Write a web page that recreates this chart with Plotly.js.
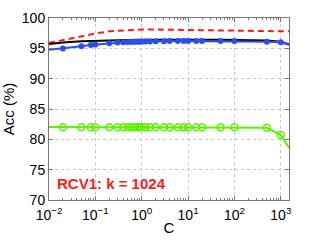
<!DOCTYPE html>
<html>
<head>
<meta charset="utf-8">
<script src="https://cdn.plot.ly/plotly-3.0.1.min.js"></script>
<style>html,body{margin:0;padding:0;background:#fff;}#chart{width:319px;height:240px;}</style>
</head>
<body>
<div id="chart"></div>
<script>
// C values (line runs from 0.01 to 1500; markers on the inner points)
var cValues = [0.01,0.02,0.05,0.08,0.1,0.2,0.3,0.4,0.5,0.6,0.7,0.8,0.9,1,1.2,1.5,2,3,4,6,8,10,15,20,50,100,500,1000,1500];
var blueAcc = [94.75,94.97,95.35,95.55,95.62,95.85,95.95,96.0,96.03,96.05,96.07,96.08,96.1,96.1,96.12,96.13,96.15,96.17,96.2,96.2,96.2,96.2,96.2,96.2,96.2,96.2,96.1,96.0,95.6];
var greenAcc = [82.05,82.0,82.0,82.0,82.0,82.0,82.0,82.0,82.0,82.0,82.0,82.0,82.0,82.0,82.0,82.0,82.0,82.0,82.0,82.0,82.0,82.0,82.0,82.0,82.0,82.0,81.9,80.7,78.6];

var cSmooth = [0.01,0.02,0.05,0.1,0.2,0.5,1,2,5,10,20,50,100,200,500,1000,1500];
var blackAcc = [95.7,95.95,96.15,96.25,96.32,96.38,96.4,96.42,96.42,96.42,96.4,96.4,96.38,96.35,96.3,96.1,95.65];
var redAcc = [95.9,96.4,97.0,97.45,97.8,98.0,98.1,98.1,98.1,98.05,98.0,97.95,97.9,97.85,97.8,97.8,97.8];

var xTickVals = [0.01,0.1,1,10,100,1000];
var yTickVals = [70,75,80,85,90,95,100];
var labelText = "RCV1: k = 1024";

var blue = '#2b4ef0', green = '#5ef000', red = '#ff1a1a';
var inner = function(a){ return a.slice(1, a.length-1); };

var traces = [
  {x: cSmooth, y: redAcc, mode:'lines', line:{color:red, width:2, dash:'6px,4px'}, hoverinfo:'skip'},
  {x: cSmooth, y: blackAcc, mode:'lines', line:{color:'#000', width:2}, hoverinfo:'skip'},
  {x: cValues, y: blueAcc, mode:'lines', line:{color:blue, width:2}, hoverinfo:'skip'},
  {x: inner(cValues), y: inner(blueAcc), mode:'markers', marker:{color:blue, size:6, symbol:'circle'}, hoverinfo:'skip'},
  {x: cValues, y: greenAcc, mode:'lines', line:{color:green, width:2}, hoverinfo:'skip'},
  {x: inner(cValues), y: inner(greenAcc), mode:'markers', marker:{color:green, size:7, symbol:'circle-open', line:{color:green, width:1.5}}, hoverinfo:'skip'}
];

var fam = 'Liberation Sans, Arial, sans-serif';
var axisFont = {family:fam, size:14, color:'#000'};

var layout = {
  width:319, height:240,
  margin:{l:49, r:30, t:18, b:40},
  paper_bgcolor:'#fff', plot_bgcolor:'#fff',
  showlegend:false,
  font: axisFont,
  xaxis:{
    type:'log', range:[-2, Math.log10(1500)],
    tickvals: xTickVals,
    ticktext: xTickVals.map(function(v){ var e=Math.round(Math.log10(v)); return '10<sup>'+(e<0?'\u2212'+(-e):e)+'</sup>'; }),
    tickmode:'array',
    ticks:'inside', ticklen:4, tickcolor:'#777',
    ticklabelstandoff:2,
    minor:{ticks:'inside', ticklen:2, tickcolor:'#777', showgrid:false, tickvals:[0.02,0.03,0.04,0.05,0.06,0.07,0.08,0.09,0.2,0.3,0.4,0.5,0.6,0.7,0.8,0.9,2,3,4,5,6,7,8,9,20,30,40,50,60,70,80,90,200,300,400,500,600,700,800,900]},
    showline:true, linecolor:'#777', linewidth:1, mirror:'ticks',
    showgrid:true, gridcolor:'#c8c8c8', griddash:'dot', gridwidth:1,
    zeroline:false,
    tickfont: axisFont,
    title:{text:'C', font:{family:fam, size:15, color:'#000'}, standoff:0}
  },
  yaxis:{
    range:[70,100], tickvals:yTickVals, tickmode:'array',
    ticks:'inside', ticklen:4, tickcolor:'#777',
    showline:true, linecolor:'#777', linewidth:1, mirror:'ticks',
    showgrid:true, gridcolor:'#c8c8c8', griddash:'dot', gridwidth:1,
    zeroline:false,
    tickfont: axisFont,
    title:{text:'Acc (%)', font:{family:fam, size:15, color:'#000'}, standoff:4}
  },
  annotations:[{
    xref:'paper', yref:'paper', x:0.026, y:0.093, xanchor:'left', yanchor:'middle',
    text:'<b>'+labelText+'</b>', showarrow:false,
    font:{family:fam, size:15, color:red}
  }]
};

Plotly.newPlot('chart', traces, layout, {staticPlot:true, displayModeBar:false});
</script>
</body>
</html>
